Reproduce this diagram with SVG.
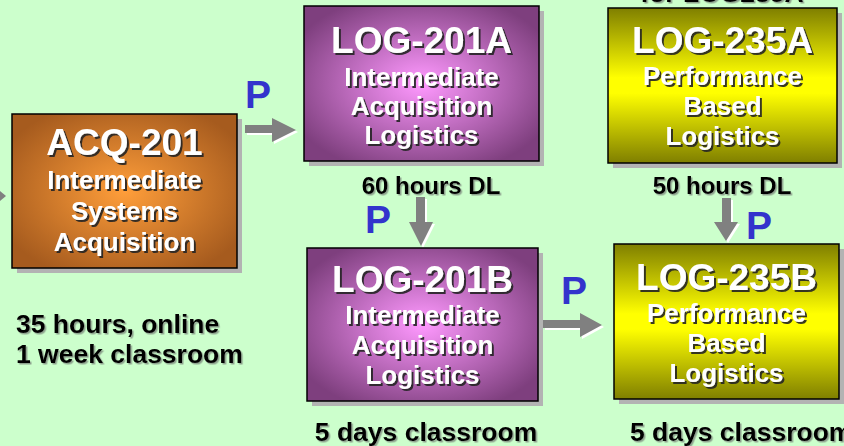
<svg xmlns="http://www.w3.org/2000/svg" width="844" height="446" viewBox="0 0 844 446">
<defs>
<radialGradient id="gOr" cx="50%" cy="50%" r="60%">
<stop offset="0" stop-color="#FF9E3A"/><stop offset="1" stop-color="#A65B1E"/>
</radialGradient>
<radialGradient id="gPu" cx="50%" cy="50%" r="60%">
<stop offset="0" stop-color="#FF99FF"/><stop offset="1" stop-color="#7E3F7E"/>
</radialGradient>
<linearGradient id="gYe" x1="0" y1="0" x2="0" y2="1">
<stop offset="0" stop-color="#7F7F00"/><stop offset="0.45" stop-color="#FFFF00"/><stop offset="0.55" stop-color="#FFFF00"/><stop offset="1" stop-color="#7F7F00"/>
</linearGradient>
<filter id="ts" x="-10%" y="-20%" width="130%" height="150%">
<feDropShadow dx="2" dy="2" stdDeviation="0.4" flood-color="#222" flood-opacity="0.9"/>
</filter>
<filter id="ls" x="-10%" y="-20%" width="130%" height="150%">
<feDropShadow dx="1.5" dy="1.5" stdDeviation="0.4" flood-color="#666" flood-opacity="0.6"/>
</filter>
</defs>
<style>
.sh{fill:#B3B3B3}
.bx{stroke:#000;stroke-width:1.5}
.t{font-family:"Liberation Sans",Arial,sans-serif;font-weight:bold;fill:#fff;text-anchor:middle;filter:url(#ts)}
.ti{font-size:37px}
.su{font-size:26px}
.lb{font-family:"Liberation Sans",Arial,sans-serif;font-weight:bold;font-size:26.5px;fill:#000;filter:url(#ls)}
.dl{font-size:24px}
.p{font-family:"Liberation Sans",Arial,sans-serif;font-weight:bold;font-size:39px;fill:#3333CC}
.ar{fill:#808080}
.aw{fill:#fff}
</style>
<rect width="844" height="446" fill="#CCFFCC"/>
<text class="lb" x="722" y="2" text-anchor="middle">for LOG235A</text>

<g id="connectors">
<polygon class="ar" points="0,191 6,196 0,201"/>
<g id="a1">
<polygon class="aw" points="247,127 274,127 274,120 298,132 274,144 274,135 247,135"/>
<polygon class="ar" points="245,125 272,125 272,118 296,130 272,142 272,133 245,133"/>
</g>
<g id="a2">
<polygon class="aw" points="418,199 427,199 427,224 435,224 423,248 411,224 418,224"/>
<polygon class="ar" points="416,197 425,197 425,222 433,222 421,246 409,222 416,222"/>
</g>
<g id="a3">
<polygon class="aw" points="545,322 582,322 582,315 604,327 582,339 582,330 545,330"/>
<polygon class="ar" points="543,320 580,320 580,313 602,325 580,337 580,328 543,328"/>
</g>
<g id="a4">
<polygon class="aw" points="724,200 733,200 733,224 740,224 728,243 716,224 724,224"/>
<polygon class="ar" points="722,198 731,198 731,222 738,222 726,241 714,222 722,222"/>
</g>
<text class="p" x="245" y="108">P</text>
<text class="p" x="365" y="233">P</text>
<text class="p" x="561" y="304">P</text>
<text class="p" x="746" y="239">P</text>
</g>

<g id="acq201">
<rect class="sh" x="17" y="119" width="225" height="154"/>
<rect class="bx" x="12" y="114" width="225" height="154" fill="url(#gOr)"/>
<text class="t ti" x="124.5" y="155">ACQ-201</text>
<text class="t su" x="124.5" y="189">Intermediate</text>
<text class="t su" x="124.5" y="220">Systems</text>
<text class="t su" x="124.5" y="251">Acquisition</text>
</g>

<g id="log201a">
<rect class="sh" x="309" y="11" width="235" height="155"/>
<rect class="bx" x="304" y="6" width="235" height="155" fill="url(#gPu)"/>
<text class="t ti" x="421.5" y="53">LOG-201A</text>
<text class="t su" x="421.5" y="86">Intermediate</text>
<text class="t su" x="421.5" y="115">Acquisition</text>
<text class="t su" x="421.5" y="144">Logistics</text>
</g>

<g id="log235a">
<rect class="sh" x="613" y="13" width="229" height="155"/>
<rect class="bx" x="608" y="8" width="229" height="155" fill="url(#gYe)"/>
<text class="t ti" x="722.5" y="53">LOG-235A</text>
<text class="t su" x="722.5" y="85">Performance</text>
<text class="t su" x="722.5" y="115">Based</text>
<text class="t su" x="722.5" y="145">Logistics</text>
</g>

<g id="log201b">
<rect class="sh" x="312" y="253" width="231" height="153"/>
<rect class="bx" x="307" y="248" width="231" height="153" fill="url(#gPu)"/>
<text class="t ti" x="422.5" y="292">LOG-201B</text>
<text class="t su" x="422.5" y="324">Intermediate</text>
<text class="t su" x="422.5" y="354">Acquisition</text>
<text class="t su" x="422.5" y="384">Logistics</text>
</g>

<g id="log235b">
<rect class="sh" x="619" y="249" width="225" height="155"/>
<rect class="bx" x="614" y="244" width="225" height="155" fill="url(#gYe)"/>
<text class="t ti" x="726.5" y="290">LOG-235B</text>
<text class="t su" x="726.5" y="322">Performance</text>
<text class="t su" x="726.5" y="352">Based</text>
<text class="t su" x="726.5" y="382">Logistics</text>
</g>

<g id="labels">
<text class="lb dl" x="431" y="194" text-anchor="middle">60 hours DL</text>
<text class="lb dl" x="722" y="194" text-anchor="middle">50 hours DL</text>
<text class="lb" x="16" y="333">35 hours, online</text>
<text class="lb" x="16" y="363">1 week classroom</text>
<text class="lb" x="426" y="441" text-anchor="middle">5 days classroom</text>
<text class="lb" x="630" y="441">5 days classroom</text>
</g>
</svg>
